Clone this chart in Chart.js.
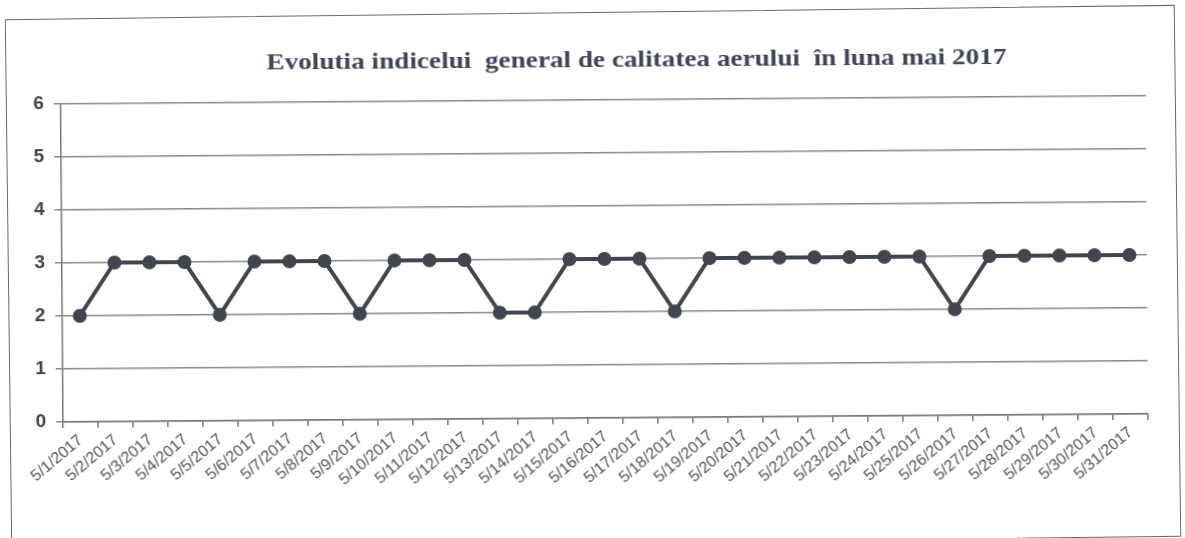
<!DOCTYPE html>
<html>
<head>
<meta charset="utf-8">
<script src="https://cdn.jsdelivr.net/npm/chart.js@4/dist/chart.umd.min.js"></script>
<style>
  html, body { margin: 0; padding: 0; background: #fff; overflow: hidden; }
  #frame { position: absolute; left: 8px; top: 12px; width: 1168px; height: 530px;
           border: 1.5px solid #6a6a6a; transform: rotate(-0.7deg); transform-origin: 50% 50%; }
  #wrap { position: absolute; left: 0; top: 0; width: 1185px; height: 538px;
          transform: rotate(-0.43deg); transform-origin: 50% 50%; }
</style>
</head>
<body>
<div id="frame"></div>
<div id="wrap"><canvas id="c" width="1185" height="538"></canvas></div>
<script>
const chartTitle = "Evolutia indicelui  general de calitatea aerului  în luna mai 2017";
const categories = [
  "5/1/2017","5/2/2017","5/3/2017","5/4/2017","5/5/2017","5/6/2017","5/7/2017","5/8/2017",
  "5/9/2017","5/10/2017","5/11/2017","5/12/2017","5/13/2017","5/14/2017","5/15/2017","5/16/2017",
  "5/17/2017","5/18/2017","5/19/2017","5/20/2017","5/21/2017","5/22/2017","5/23/2017","5/24/2017",
  "5/25/2017","5/26/2017","5/27/2017","5/28/2017","5/29/2017","5/30/2017","5/31/2017"
];
const indexValues = [
  2,3,3,3,2,3,3,3,
  2,3,3,3,2,2,3,3,
  3,2,3,3,3,3,3,3,
  3,2,3,3,3,3,3
];
const yTicks = [0,1,2,3,4,5,6];

const titlePlugin = {
  id: 'customTitle',
  afterDraw(chart) {
    const ctx = chart.ctx;
    ctx.save();
    ctx.font = 'bold 23px "Liberation Serif", "Times New Roman", serif';
    ctx.fillStyle = '#3f4656';
    ctx.textAlign = 'center';
    ctx.textBaseline = 'middle';
    const w = ctx.measureText(chartTitle).width;
    const sx = 740 / w;
    ctx.translate(638, 61);
    ctx.scale(sx, 1);
    ctx.fillText(chartTitle, 0, 0);
    ctx.restore();
  }
};

new Chart(document.getElementById('c'), {
  type: 'line',
  data: {
    labels: categories,
    datasets: [{
      label: 'Indice general',
      data: indexValues,
      borderColor: '#40454e',
      backgroundColor: '#40454e',
      borderWidth: 4,
      pointRadius: 7,
      pointHoverRadius: 7,
      pointBackgroundColor: '#40454e',
      pointBorderWidth: 0,
      tension: 0
    }]
  },
  options: {
    responsive: false,
    animation: false,
    layout: { padding: { left: 10, right: 38, top: 100, bottom: 10 } },
    plugins: {
      legend: { display: false },
      title: { display: false },
      tooltip: { enabled: false }
    },
    scales: {
      x: {
        offset: true,
        grid: { offset: true, drawOnChartArea: false, drawTicks: true, tickLength: 6, color: '#777', lineWidth: 1.5 },
        border: { color: '#777', width: 1.5 },
        ticks: {
          autoSkip: false, maxRotation: 40, minRotation: 40, padding: 3,
          color: '#555', font: { family: 'Liberation Sans, Arial, sans-serif', size: 16 }
        },
        afterFit(scale) { scale.height = 110; }
      },
      y: {
        min: 0, max: 6,
        afterBuildTicks(scale) { scale.ticks = yTicks.map(v => ({ value: v })); },
        grid: { color: '#8a8a8a', lineWidth: 1.5, drawTicks: true, tickLength: 7 },
        border: { color: '#777', width: 1.5 },
        ticks: {
          padding: 10, color: '#444',
          font: { family: 'Liberation Sans, Arial, sans-serif', size: 19, weight: 'bold' }
        },
        afterFit(scale) { scale.width = 52; }
      }
    }
  },
  plugins: [titlePlugin]
});
</script>
</body>
</html>
